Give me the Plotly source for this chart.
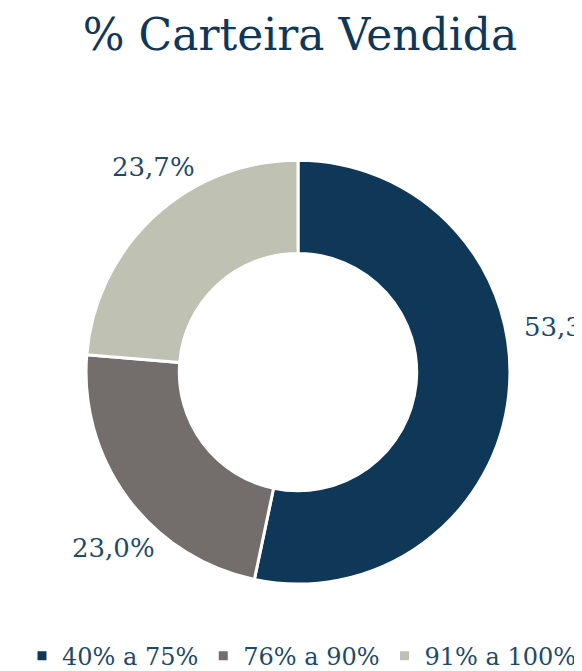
import plotly.graph_objects as go

categories = ["40% a 75%", "76% a 90%", "91% a 100%"]
values = [53.3, 23.0, 23.7]
colors = ["#0F3858", "#736E6C", "#BFC1B3"]
title_text = "% Carteira Vendida"

W, H = 582, 671
OFFX, OFFY = 8, 5
FONT = "DejaVu Serif"
TXT = "#1D4A6B"

def px(x):
    return (x - OFFX) / W

def py(y):
    return 1 - (y - OFFY) / H

fig = go.Figure(go.Pie(
    labels=categories,
    values=values,
    sort=False,
    direction="clockwise",
    rotation=0,
    hole=0.56,
    marker=dict(colors=colors, line=dict(color="white", width=3)),
    textinfo="none",
    hoverinfo="label+percent",
    domain=dict(x=[px(85), px(511)], y=[py(588), py(159)]),
))

label_pos = [(522, 328, "left"), (157, 552, "right"), (197, 166, "right")]
for v, (x, y, anc) in zip(values, label_pos):
    fig.add_annotation(
        x=px(x), y=py(y), xref="paper", yref="paper",
        text=f"{v:.1f}%".replace(".", ","),
        showarrow=False, xanchor=anc, yanchor="middle",
        font=dict(family=FONT, size=26, color=TXT),
    )

fig.update_layout(
    width=W, height=H,
    margin=dict(l=0, r=0, t=0, b=0),
    paper_bgcolor="white",
    title=dict(text=title_text, x=px(300), xanchor="center", y=py(32), yanchor="middle",
               font=dict(family=FONT, size=44, color="#0F3858")),
    legend=dict(orientation="h", x=px(22), xanchor="left", y=py(661), yanchor="middle",
                font=dict(family=FONT, size=24, color=TXT),
                itemwidth=30, tracegroupgap=0),
    showlegend=True,
)

fig.write_html("out.html")
